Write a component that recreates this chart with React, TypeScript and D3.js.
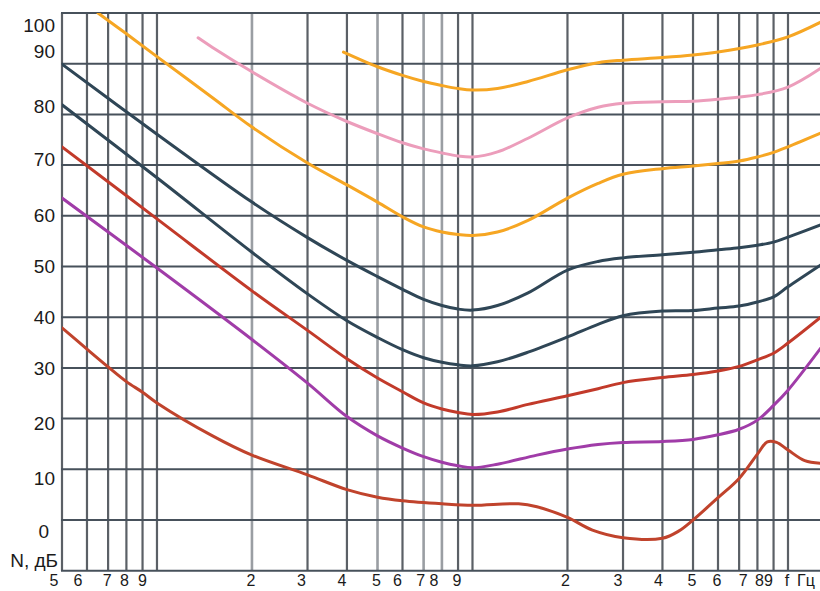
import React from "react";
import * as d3 from "d3";

// ---- axis data ----
const yTickValues = [100, 90, 80, 70, 60, 50, 40, 30, 20, 10, 0];
const yTickLabels = ["100", "90", "80", "70", "60", "50", "40", "30", "20", "10", "0"];
const yAxisTitle = "N, дБ";
const gridDb = [-10, 0, 10, 20, 30, 40, 50, 60, 70, 80, 90, 100];
const gridFreqs = [50, 60, 70, 80, 90, 100, 200, 300, 400, 500, 600, 700, 800, 900, 1000,
  2000, 3000, 4000, 5000, 6000, 7000, 8000, 9000, 10000];
const lightGridFreqs = [200, 500, 700, 800];
const xTickFreqs = [50, 60, 70, 80, 90, 200, 300, 400, 500, 600, 700, 800, 900,
  2000, 3000, 4000, 5000, 6000, 7000, 8000, 9000, 10000];
const xTickLabels = ["5", "6", "7", "8", "9", "2", "3", "4", "5", "6", "7", "8", "9",
  "2", "3", "4", "5", "6", "7", "8", "9", "f"];
const xAxisUnit = "Гц";

// ---- series: [frequency Hz, level dB] ----
const orangeTop: [number, number][] = [
  [390, 92.3], [500, 89.4], [600, 87.7], [700, 86.5], [800, 85.7], [900, 85.1], [1000, 84.8],
  [1200, 85.1], [1500, 86.5], [2000, 88.8], [2500, 90.2], [3000, 90.7], [4000, 91.2],
  [5000, 91.7], [6000, 92.3], [8000, 93.7], [10000, 95.3], [12700, 98.2],
];
const pinkCurve: [number, number][] = [
  [135, 95.1], [150, 93.2], [200, 88.4], [300, 82.2], [400, 78.6], [500, 76.2], [600, 74.4],
  [700, 73.2], [800, 72.4], [900, 71.8], [1000, 71.6], [1200, 72.6], [1500, 75.3],
  [2000, 79.3], [2500, 81.4], [3000, 82.2], [4000, 82.5], [5000, 82.6], [6000, 83.0],
  [8000, 83.9], [10000, 85.4], [12700, 89.1],
];
const orangeLow: [number, number][] = [
  [65, 100], [80, 95.9], [100, 91.4], [150, 83.3], [200, 77.5], [300, 70.4], [400, 66.1],
  [500, 62.7], [600, 59.8], [700, 57.8], [800, 56.8], [900, 56.3], [1000, 56.1],
  [1200, 56.8], [1500, 59.1], [2000, 63.5], [2500, 66.4], [3000, 68.2], [4000, 69.3],
  [5000, 69.8], [6000, 70.3], [7000, 70.8], [8000, 71.6], [9000, 72.5], [10000, 73.6],
  [12700, 76.3],
];
const slateUpper: [number, number][] = [
  [50, 89.9], [100, 76.1], [200, 62.7], [300, 55.7], [400, 51.2], [500, 48.0], [600, 45.5],
  [700, 43.5], [800, 42.3], [900, 41.6], [1000, 41.4], [1200, 42.3], [1500, 44.8],
  [2000, 49.3], [2500, 51.0], [3000, 51.7], [4000, 52.3], [5000, 52.8], [6000, 53.3],
  [7000, 53.7], [8000, 54.2], [9000, 54.8], [10000, 55.8], [12700, 58.2],
];
const slateLower: [number, number][] = [
  [50, 81.9], [100, 67.5], [200, 52.8], [300, 44.6], [400, 39.3], [500, 36.0], [600, 33.6],
  [700, 32.0], [800, 31.1], [900, 30.6], [1000, 30.4], [1200, 31.2], [1500, 33.1],
  [2000, 36.1], [2500, 38.6], [3000, 40.3], [4000, 41.2], [5000, 41.3], [6000, 41.8],
  [7000, 42.2], [8000, 43.0], [9000, 44.0], [10000, 46.0], [12700, 50.3],
];
const redCurve: [number, number][] = [
  [50, 73.6], [100, 59.4], [200, 45.2], [300, 37.4], [400, 31.8], [500, 28.0], [600, 25.3],
  [700, 23.1], [800, 21.9], [900, 21.2], [1000, 20.8], [1200, 21.3], [1500, 22.8],
  [2000, 24.5], [2500, 25.9], [3000, 27.1], [4000, 28.1], [5000, 28.7], [6000, 29.4],
  [7000, 30.3], [8000, 31.6], [9000, 32.9], [10000, 34.9], [12700, 40.0],
];
const purpleCurve: [number, number][] = [
  [50, 63.5], [100, 49.7], [200, 35.6], [300, 27.0], [400, 20.4], [500, 16.6], [600, 14.2],
  [700, 12.5], [800, 11.4], [900, 10.7], [1000, 10.3], [1200, 11.0], [1600, 12.8],
  [2000, 14.0], [2500, 14.9], [3000, 15.3], [4000, 15.5], [5000, 15.9], [6000, 16.8],
  [7000, 17.9], [8000, 19.7], [9000, 22.6], [10000, 25.6], [12700, 33.9],
];
const thresholdCurve: [number, number][] = [
  [50, 37.9], [60, 33.7], [70, 30.2], [80, 27.3], [90, 25.2], [100, 23.1], [150, 16.6],
  [200, 12.8], [300, 8.9], [400, 6.0], [500, 4.5], [600, 3.8], [800, 3.2], [1000, 2.9],
  [1400, 3.2], [1600, 2.6], [2000, 0.5], [2400, -2.0], [3000, -3.5], [4000, -3.6],
  [4500, -2.2], [5000, 0.0], [6000, 4.4], [7000, 8.2], [8000, 13.0], [8600, 15.4],
  [9200, 15.3], [10000, 13.8], [11300, 11.7], [12700, 11.2],
];

const seriesList = [
  { data: orangeTop, color: "#f6a623" },
  { data: pinkCurve, color: "#ec9dbb" },
  { data: orangeLow, color: "#f6a623" },
  { data: slateUpper, color: "#2f4656" },
  { data: slateLower, color: "#2f4656" },
  { data: redCurve, color: "#c23a2a" },
  { data: purpleCurve, color: "#a03ca8" },
  { data: thresholdCurve, color: "#c0432c" },
];

const W = 820;
const H = 591;
const plotLeft = 62;
const plotRight = 820;

export default function App() {
  const x = d3.scaleLog().domain([50, 10000]).range([62, 788]);
  const y = d3.scaleLinear().domain([0, 100]).range([520, 13]);
  const yTop = y(100);
  const yBottom = y(-10);

  const line = d3
    .line<[number, number]>()
    .x((d) => x(d[0]))
    .y((d) => y(d[1]))
    .curve(d3.curveCatmullRom.alpha(0.5));

  const yLabelDy = [19, -6, -1, 1, 6, 6, 7, 7, 11, 16, 18];
  const yLabelDx = [0, 0, 0, 0, 0, 0, 0, 0, 0, 0, -6];
  const xLabelDx = [-8, -9, -1, -2, 0, -1, -6, -5, -1, -5, -3, -8, -1, -2, -5, -4, -1, -1, 4, 2, -5, -1];

  const font = "'Liberation Sans', Arial, sans-serif";

  return (
    <svg
      width={W}
      height={H}
      style={{ position: "absolute", left: 0, top: 0, background: "#fff" }}
    >
      <defs>
        <clipPath id="plotClip">
          <rect x={plotLeft} y={yTop} width={plotRight - plotLeft} height={yBottom - yTop} />
        </clipPath>
      </defs>
      {/* vertical grid */}
      {gridFreqs.map((f) => {
        const light = lightGridFreqs.includes(f);
        return (
          <line
            key={"v" + f}
            x1={x(f)}
            x2={x(f)}
            y1={yTop}
            y2={yBottom}
            stroke={light ? "#9a9ea3" : "#5b6066"}
            strokeWidth={light ? 2.6 : 2.2}
          />
        );
      })}
      {/* horizontal grid */}
      {gridDb.map((v) => (
        <line
          key={"h" + v}
          x1={plotLeft - 1}
          x2={plotRight}
          y1={y(v)}
          y2={y(v)}
          stroke="#47515b"
          strokeWidth={2}
        />
      ))}
      {/* curves */}
      <g clipPath="url(#plotClip)">
        {seriesList.map((s, i) => (
          <path
            key={"s" + i}
            d={line(s.data) || ""}
            fill="none"
            stroke={s.color}
            strokeWidth={3}
            strokeLinecap="round"
            strokeLinejoin="round"
          />
        ))}
      </g>
      {/* y labels */}
      {yTickValues.map((v, i) => (
        <text
          key={"yl" + v}
          x={55 + yLabelDx[i]}
          y={y(v) + yLabelDy[i]}
          textAnchor="end"
          fontFamily={font}
          fontSize={19}
          fill="#1a1a1a"
        >
          {yTickLabels[i]}
        </text>
      ))}
      <text x={58} y={567} textAnchor="end" fontFamily={font} fontSize={19} fill="#1a1a1a">
        {yAxisTitle}
      </text>
      {/* x labels */}
      {xTickFreqs.map((f, i) => (
        <text
          key={"xl" + i}
          x={x(f) + xLabelDx[i]}
          y={586}
          textAnchor="middle"
          fontFamily={font}
          fontSize={16}
          fill="#1a1a1a"
        >
          {xTickLabels[i]}
        </text>
      ))}
      <text x={797} y={586} textAnchor="start" fontFamily={font} fontSize={16} fill="#1a1a1a">
        {xAxisUnit}
      </text>
    </svg>
  );
}
